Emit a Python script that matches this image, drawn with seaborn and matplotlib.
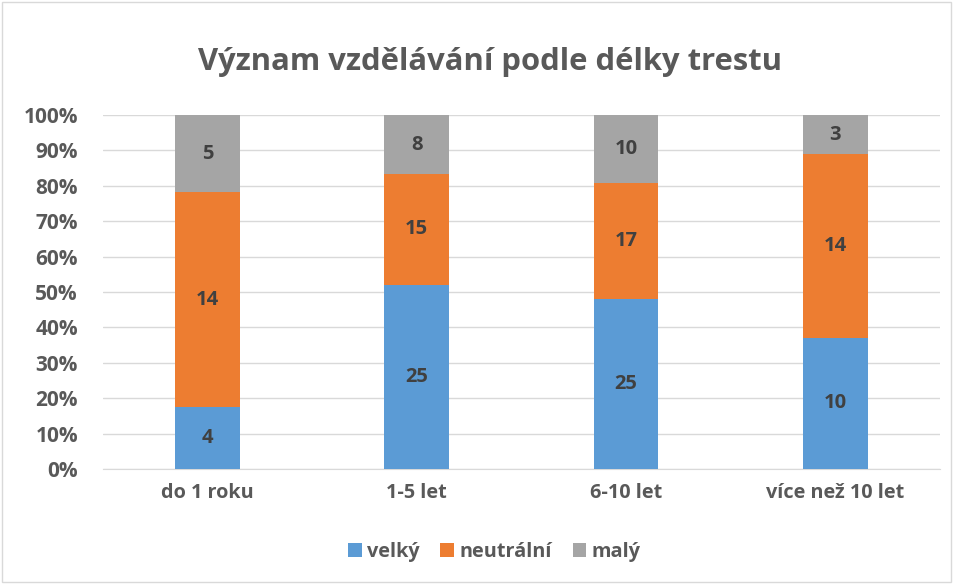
import numpy as np
import pandas as pd
import matplotlib.pyplot as plt
import seaborn as sns
from matplotlib.patches import Rectangle

# data
categories = ['do 1 roku', '1-5 let', '6-10 let', 'více než 10 let']
velky = [4, 25, 25, 10]
neutralni = [14, 15, 17, 14]
maly = [5, 8, 10, 3]
series_names = ['velký', 'neutrální', 'malý']
colors = ['#5B9BD5', '#ED7D31', '#A5A5A5']
title = 'Význam vzdělávání podle délky trestu'

sns.set_style('white')
plt.rcParams['font.family'] = ['Open Sans', 'DejaVu Sans']

counts = pd.DataFrame({'kategorie': categories, 'velký': velky,
                       'neutrální': neutralni, 'malý': maly})
total = counts[series_names].sum(axis=1)
pct = counts[series_names].div(total, axis=0) * 100
cum = pct.cumsum(axis=1)
cum['kategorie'] = categories

fig = plt.figure(figsize=(9.54, 5.84), dpi=100)
ax = fig.add_axes([0.108, 0.197, 0.877, 0.606])

# stacked bars drawn from the top layer down
for name, col in reversed(list(zip(series_names, colors))):
    sns.barplot(data=cum, x='kategorie', y=name, color=col, width=0.31,
                saturation=1, ax=ax, zorder=3, label=name, linewidth=0)

# value labels
for i in range(len(categories)):
    base = 0
    for name in series_names:
        h = pct.loc[i, name]
        ax.text(i, base + h / 2, str(counts.loc[i, name]), ha='center', va='center',
                fontsize=14.5, fontweight='bold', color='#404040', zorder=4)
        base += h

ax.set_ylim(0, 100)
ax.set_xlim(-0.5, 3.5)
ax.set_yticks(np.arange(0, 101, 10))
ax.set_yticklabels([f'{v}%' for v in range(0, 101, 10)])
ax.yaxis.grid(True, color='#D9D9D9', linewidth=1, zorder=0)
ax.set_axisbelow(True)
for s in ['top', 'right', 'left']:
    ax.spines[s].set_visible(False)
ax.spines['bottom'].set_color('#D9D9D9')
ax.tick_params(axis='y', length=0, labelsize=15, labelcolor='#595959', pad=18)
ax.tick_params(axis='x', length=0, labelsize=14.3, labelcolor='#595959', pad=10)
for lab in ax.get_xticklabels() + ax.get_yticklabels():
    lab.set_fontweight('bold')
ax.set_xlabel('')
ax.set_ylabel('')

fig.text(0.514, 0.893, title, ha='center', va='center', fontsize=22.3,
         fontweight='bold', color='#595959')

handles, labels = ax.get_legend_handles_labels()
if ax.get_legend() is not None:
    ax.get_legend().remove()
order = [labels.index(n) for n in series_names]
leg = fig.legend([handles[k] for k in order], series_names, loc='center',
                 bbox_to_anchor=(0.518, 0.055), ncol=3, frameon=False,
                 handlelength=0.7, handleheight=0.7, handletextpad=0.25,
                 columnspacing=1.05, prop={'size': 14.3, 'weight': 'bold'})
for t in leg.get_texts():
    t.set_color('#595959')

fig.patches.append(Rectangle((0.002, 0.003), 0.995, 0.993, transform=fig.transFigure,
                             fill=False, edgecolor='#D9D9D9', linewidth=1))

fig.savefig('out.png', dpi=100)
